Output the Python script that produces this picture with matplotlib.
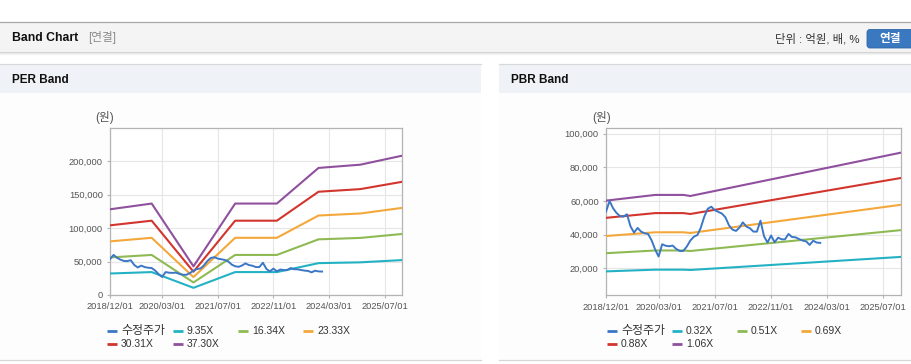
import numpy as np
import pandas as pd
import matplotlib
matplotlib.use("Agg")
import matplotlib.pyplot as plt
from matplotlib.patches import Rectangle, FancyBboxPatch
from matplotlib.lines import Line2D
from matplotlib.ticker import FuncFormatter

plt.rcParams['font.family'] = ['Liberation Sans', 'Noto Sans CJK KR', 'DejaVu Sans']

# ---------------- data ----------------
price_start = "2018-12-01"
price = [53700, 60000, 55600, 53000, 51000, 50700, 52100, 45000, 41200, 44000,
         41800, 40800, 40400, 36500, 31000, 27000, 34300, 33400, 33100, 33500,
         31500, 30300, 30300, 33000, 36500, 38800, 39800, 44000, 50700, 55400,
         56600, 54500, 53500, 52500, 50300, 45500, 43000, 42200, 44300, 47300,
         44800, 43800, 41800, 41800, 48300, 39000, 35300, 39500, 35500, 38200,
         37200, 37200, 40400, 38600, 38400, 37400, 36500, 36000, 33900, 36400,
         35300, 35100]

per_dates = ["2018-12-01", "2019-12-01", "2020-12-01", "2021-12-01",
             "2022-12-01", "2023-12-01", "2024-12-01", "2025-12-01"]
per_935 = [32160, 34310, 10750, 34310, 34310, 47690, 48900, 52270]
per_1634 = [56210, 59970, 18790, 59970, 59970, 83330, 85460, 91340]
per_2333 = [80250, 85620, 26830, 85620, 85620, 118980, 122010, 130410]
per_3031 = [104270, 111240, 34860, 111240, 111240, 154580, 158520, 169430]
per_3730 = [128310, 136890, 42900, 136890, 136890, 190230, 195080, 208510]
per_labels = ["수정주가", "9.35X", "16.34X", "23.33X", "30.31X", "37.30X"]

pbr_dates = ["2018-12-01", "2020-02-01", "2020-10-01", "2020-12-01",
             "2022-12-01", "2025-12-01"]
pbr_032 = [18180, 19200, 19200, 19010, 22110, 26780]
pbr_051 = [28970, 30600, 30600, 30290, 35240, 42690]
pbr_069 = [39190, 41400, 41400, 40990, 47680, 57750]
pbr_088 = [49980, 52800, 52800, 52270, 60810, 73660]
pbr_106 = [60210, 63600, 63600, 62960, 73250, 88720]
pbr_labels = ["수정주가", "0.32X", "0.51X", "0.69X", "0.88X", "1.06X"]

xtick_dates = ["2018-12-01", "2020-03-01", "2021-07-01", "2022-11-01",
               "2024-03-01", "2025-07-01"]
x_start, x_end = "2018-12-01", "2025-12-01"

colors = ["#3b77c6", "#23b2c4", "#8fba53", "#f4a83b", "#d1352d", "#8f509d"]

# ---------------- figure ----------------
W, H = 912, 364
fig = plt.figure(figsize=(W / 100, H / 100), dpi=100)
fig.patch.set_facecolor("white")

bg = fig.add_axes([0, 0, 1, 1], zorder=0)
bg.set_xlim(0, W)
bg.set_ylim(H, 0)
bg.axis("off")

# top header bar
bg.add_patch(Rectangle((0, 22), W, 30, facecolor="#f4f4f4", edgecolor="none"))
bg.plot([0, W], [22, 22], color="#a8a8a8", lw=0.9)
bg.plot([0, W], [52.3, 52.3], color="#d4d4d4", lw=0.8)
bg.plot([0, W], [53.3, 53.3], color="#e8e8e8", lw=0.8)
bg.plot([0, W], [54.3, 54.3], color="#f3f3f3", lw=0.8)
bg.text(12, 38, "Band Chart", fontsize=8.8, fontweight="bold", color="#111111",
        ha="left", va="center")
bg.text(88, 38, "[연결]", fontsize=8.4, color="#8a8a8a", ha="left", va="center")
bg.text(860, 39, "단위 : 억원, 배, %", fontsize=8.2, color="#333333",
        ha="right", va="center")
bg.add_patch(FancyBboxPatch((867, 29.5), 52, 18.5,
                            boxstyle="round,pad=0,rounding_size=3",
                            facecolor="#3a78bf", edgecolor="#2f65a6", lw=0.6))
bg.text(890, 39, "연결", fontsize=8.4, fontweight="bold", color="white",
        ha="center", va="center")

# panels
for (x0, x1, title) in [(0, 481, "PER Band"), (499, W, "PBR Band")]:
    bg.add_patch(Rectangle((x0, 64), x1 - x0, 29, facecolor="#eff3f7",
                           edgecolor="none"))
    bg.add_patch(Rectangle((x0, 93), x1 - x0, 267, facecolor="#fdfdfd",
                           edgecolor="none"))
    bg.plot([x0, x1], [64, 64], color="#d8d8d8", lw=0.9)
    bg.plot([x0, x1], [360, 360], color="#d6d6d6", lw=0.9)
    bg.text(x0 + 12, 80, title, fontsize=8.5, fontweight="bold",
            color="#111111", ha="left", va="center")

bg.text(105, 118, "(원)", fontsize=8.4, color="#555555", ha="center", va="center")
bg.text(602, 118, "(원)", fontsize=8.4, color="#555555", ha="center", va="center")


def legend(x_cols, labels):
    rows = [331, 344]
    for i, lab in enumerate(labels):
        r, c = divmod(i, 4)
        x = x_cols[c]
        y = rows[r]
        bg.add_line(Line2D([x, x + 10], [y, y], color=colors[i], lw=2.0,
                           solid_capstyle="butt"))
        fs = 8.6 if i == 0 else 7.5
        bg.text(x + 14, y, lab, fontsize=fs, color="#333333",
                ha="left", va="center")


legend([107, 173, 238, 303], per_labels)
legend([607, 672, 737, 801], pbr_labels)


def style_axes(ax):
    ax.set_facecolor("white")
    for s in ax.spines.values():
        s.set_color("#b4b4b4")
        s.set_linewidth(0.9)
    ax.grid(True, color="#e6e6e6", lw=0.8)
    ax.set_axisbelow(True)
    ax.tick_params(axis="both", length=2.2, width=0.8, color="#b4b4b4",
                   labelsize=6.7, labelcolor="#555555", pad=3)
    xt = pd.to_datetime(xtick_dates)
    ax.set_xticks(xt)
    ax.set_xticklabels([d.strftime("%Y/%m/%d") for d in xt])
    ax.set_xlim(pd.Timestamp(x_start), pd.Timestamp(x_end))
    ax.yaxis.set_major_formatter(FuncFormatter(lambda v, p: f"{int(v):,}"))


price_dates = pd.date_range(price_start, periods=len(price), freq="MS")

# PER
ax1 = fig.add_axes([110 / W, (H - 295) / H, 292 / W, 167 / H], zorder=2)
style_axes(ax1)
pd_per = pd.to_datetime(per_dates)
for i, ser in enumerate([per_935, per_1634, per_2333, per_3031, per_3730]):
    ax1.plot(pd_per, ser, color=colors[i + 1], lw=1.5, zorder=3)
ax1.plot(price_dates, price, color=colors[0], lw=1.4, zorder=4)
ax1.set_ylim(0, 250000)
ax1.set_yticks([0, 50000, 100000, 150000, 200000])

# PBR
ax2 = fig.add_axes([606 / W, (H - 295.3) / H, 295 / W, 167 / H], zorder=2)
style_axes(ax2)
pd_pbr = pd.to_datetime(pbr_dates)
for i, ser in enumerate([pbr_032, pbr_051, pbr_069, pbr_088, pbr_106]):
    ax2.plot(pd_pbr, ser, color=colors[i + 1], lw=1.5, zorder=3)
ax2.plot(price_dates, price, color=colors[0], lw=1.4, zorder=4)
ax2.set_ylim(3970, 103170)
ax2.set_yticks([20000, 40000, 60000, 80000, 100000])

fig.savefig("out.png", dpi=100)
